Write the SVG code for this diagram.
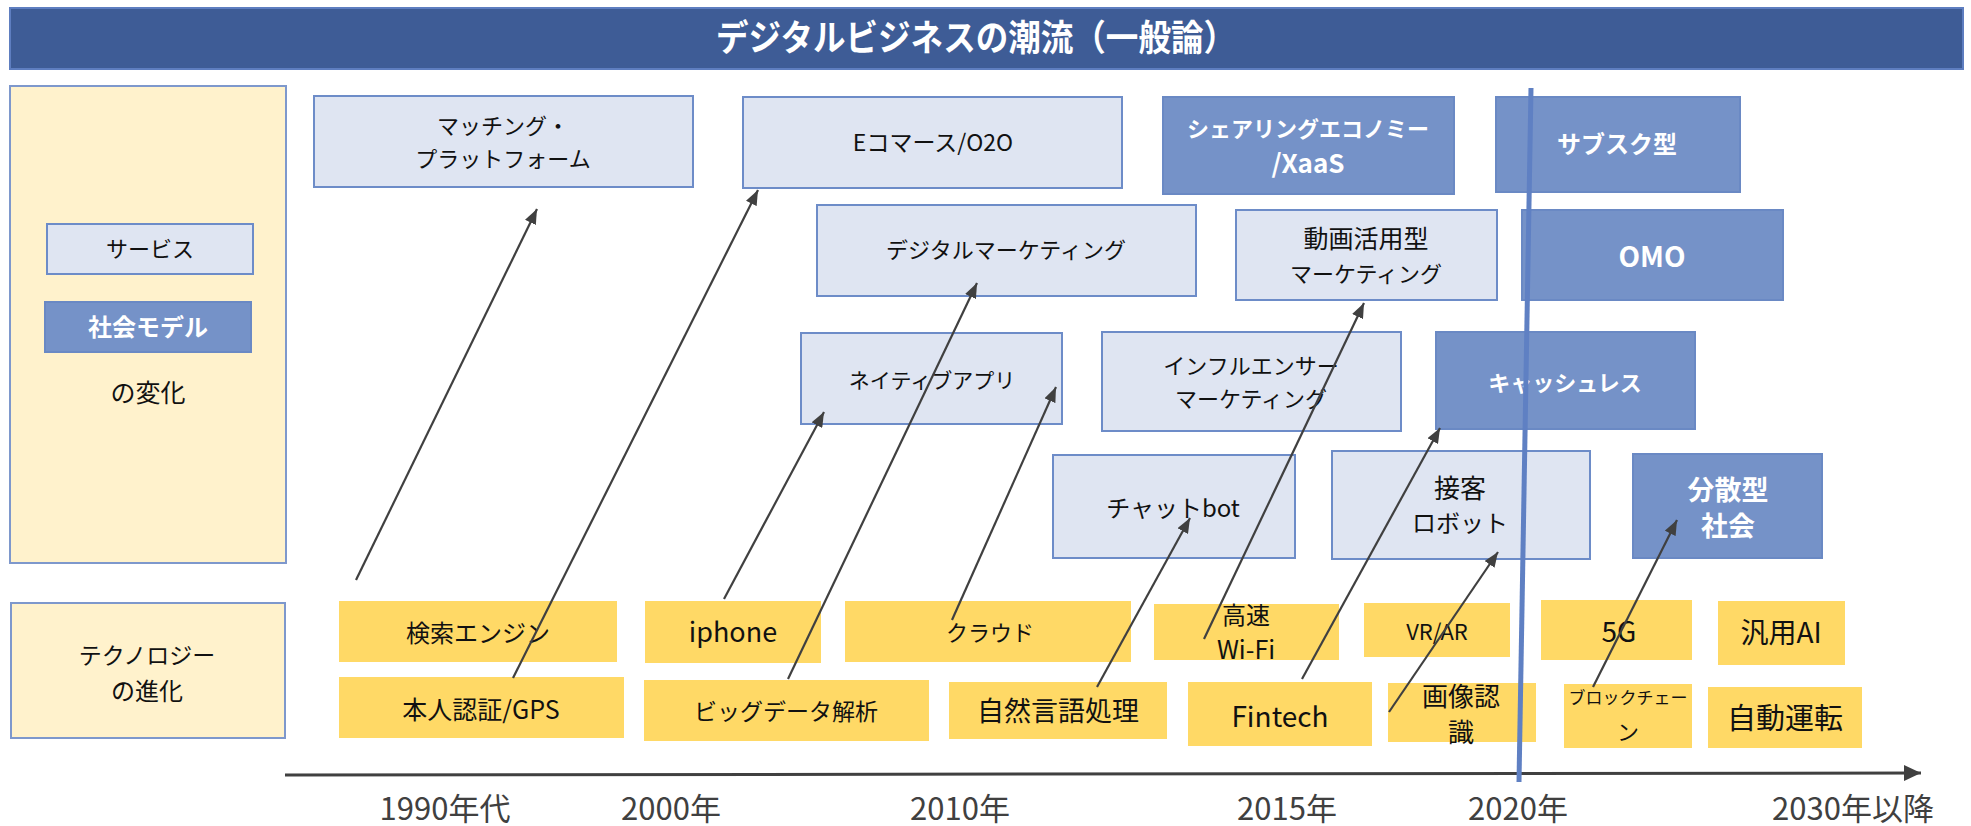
<svg xmlns="http://www.w3.org/2000/svg" width="1971" height="826" viewBox="0 0 1971 826">
<defs>
<style>
text{font-family:"Noto Sans CJK JP","Noto Sans",sans-serif;text-anchor:middle;}
.svc{fill:#DFE5F2;stroke:#6D8CC8;stroke-width:2;}
.soc{fill:#7592C8;stroke:#6A89C4;stroke-width:2;}
.tech{fill:#FFD966;}
.panel{fill:#FFF2CC;stroke:#7E98CC;stroke-width:2;}
.dk{fill:#111;}
.wt{fill:#fff;font-weight:bold;}
.yr{fill:#404040;font-size:31px;}
.con line{stroke:#404040;stroke-width:2.2;}
</style>
<marker id="ah" markerUnits="userSpaceOnUse" markerWidth="16" markerHeight="12" refX="15" refY="6" orient="auto">
<path d="M0,0 L15,6 L0,12 z" fill="#404040"/>
</marker>
<marker id="axh" markerUnits="userSpaceOnUse" markerWidth="18" markerHeight="16" refX="17" refY="8" orient="auto">
<path d="M0,0 L17,8 L0,16 z" fill="#404040"/>
</marker>
</defs>
<rect width="1971" height="826" fill="#fff"/>

<g id="title">
<rect x="10" y="8" width="1953" height="61" fill="#3E5C96" stroke="#5E7EC0" stroke-width="2"/>
<text x="976" y="51" class="wt" font-size="36" textLength="520" lengthAdjust="spacingAndGlyphs">デジタルビジネスの潮流（一般論）</text>
</g>

<g id="legend-panel">
<rect x="10" y="86" width="276" height="477" class="panel"/>
</g>
<g id="legend-service">
<rect x="47" y="224" width="206" height="50" class="svc"/>
<text x="150" y="257" class="dk" font-size="22">サービス</text>
</g>
<g id="legend-social">
<rect x="45" y="302" width="206" height="50" class="soc"/>
<text x="148" y="336" class="wt" font-size="24">社会モデル</text>
</g>
<g id="legend-change">
<text x="148" y="402" class="dk" font-size="25">の変化</text>
</g>
<g id="tech-panel">
<rect x="11" y="603" width="274" height="135" class="panel"/>
<text x="147" y="664" class="dk" font-size="23">テクノロジー</text>
<text x="147" y="700" class="dk" font-size="24">の進化</text>
</g>

<g id="n-matching"><rect x="314" y="96" width="379" height="91" class="svc"/>
<text x="503" y="134" class="dk" font-size="22">マッチング・</text>
<text x="503" y="167" class="dk" font-size="22">プラットフォーム</text></g>
<g id="n-ecommerce"><rect x="743" y="97" width="379" height="91" class="svc"/>
<text x="933" y="151" class="dk" font-size="23">Eコマース/O2O</text></g>
<g id="n-sharing"><rect x="1163" y="97" width="291" height="97" class="soc"/>
<text x="1308" y="137" class="wt" font-size="22">シェアリングエコノミー</text>
<text x="1308" y="173" class="wt" font-size="26">/XaaS</text></g>
<g id="n-subsc"><rect x="1496" y="97" width="244" height="95" class="soc"/>
<text x="1617" y="153" class="wt" font-size="24">サブスク型</text></g>
<g id="n-digimk"><rect x="817" y="205" width="379" height="91" class="svc"/>
<text x="1006" y="258" class="dk" font-size="22">デジタルマーケティング</text></g>
<g id="n-video"><rect x="1236" y="210" width="261" height="90" class="svc"/>
<text x="1366" y="248" class="dk" font-size="25">動画活用型</text>
<text x="1366" y="282" class="dk" font-size="22">マーケティング</text></g>
<g id="n-omo"><rect x="1522" y="210" width="261" height="90" class="soc"/>
<text x="1652" y="267" class="wt" font-size="28">OMO</text></g>
<g id="n-native"><rect x="801" y="333" width="261" height="91" class="svc"/>
<text x="932" y="388" class="dk" font-size="21">ネイティブアプリ</text></g>
<g id="n-influencer"><rect x="1102" y="332" width="299" height="99" class="svc"/>
<text x="1251" y="374" class="dk" font-size="22">インフルエンサー</text>
<text x="1251" y="407" class="dk" font-size="22">マーケティング</text></g>
<g id="n-cashless"><rect x="1436" y="332" width="259" height="97" class="soc"/>
<text x="1565" y="391" class="wt" font-size="22">キャッシュレス</text></g>
<g id="n-chatbot"><rect x="1053" y="455" width="242" height="103" class="svc"/>
<text x="1173" y="517" class="dk" font-size="24">チャットbot</text></g>
<g id="n-robot"><rect x="1332" y="451" width="258" height="108" class="svc"/>
<text x="1460" y="498" class="dk" font-size="26">接客</text>
<text x="1460" y="532" class="dk" font-size="24">ロボット</text></g>
<g id="n-distributed"><rect x="1633" y="454" width="189" height="104" class="soc"/>
<text x="1728" y="500" class="wt" font-size="27">分散型</text>
<text x="1728" y="536" class="wt" font-size="27">社会</text></g>

<g id="t-search"><rect x="339" y="601" width="278" height="61" class="tech"/>
<text x="478" y="642" class="dk" font-size="24">検索エンジン</text></g>
<g id="t-auth"><rect x="339" y="677" width="285" height="61" class="tech"/>
<text x="481" y="719" class="dk" font-size="25">本人認証/GPS</text></g>
<g id="t-iphone"><rect x="645" y="601" width="176" height="62" class="tech"/>
<text x="733" y="642" class="dk" font-size="27">iphone</text></g>
<g id="t-bigdata"><rect x="644" y="680" width="285" height="61" class="tech"/>
<text x="786" y="720" class="dk" font-size="23">ビッグデータ解析</text></g>
<g id="t-cloud"><rect x="845" y="601" width="286" height="61" class="tech"/>
<text x="990" y="641" class="dk" font-size="22">クラウド</text></g>
<g id="t-nlp"><rect x="949" y="682" width="218" height="57" class="tech"/>
<text x="1058" y="721" class="dk" font-size="27">自然言語処理</text></g>
<g id="t-wifi"><rect x="1154" y="604" width="185" height="56" class="tech"/>
<text x="1246" y="624" class="dk" font-size="24">高速</text>
<text x="1246" y="659" class="dk" font-size="25">Wi-Fi</text></g>
<g id="t-fintech"><rect x="1188" y="682" width="184" height="64" class="tech"/>
<text x="1280" y="727" class="dk" font-size="28">Fintech</text></g>
<g id="t-vrar"><rect x="1364" y="603" width="146" height="54" class="tech"/>
<text x="1437" y="640" class="dk" font-size="22">VR/AR</text></g>
<g id="t-image"><rect x="1388" y="683" width="148" height="59" class="tech"/>
<text x="1461" y="706" class="dk" font-size="26">画像認</text>
<text x="1461" y="742" class="dk" font-size="26">識</text></g>
<g id="t-5g"><rect x="1541" y="600" width="151" height="60" class="tech"/>
<text x="1619" y="642" class="dk" font-size="28">5G</text></g>
<g id="t-agi"><rect x="1718" y="601" width="127" height="64" class="tech"/>
<text x="1781" y="643" class="dk" font-size="28">汎用AI</text></g>
<g id="t-blockchain"><rect x="1564" y="684" width="128" height="64" class="tech"/>
<text x="1628" y="704" class="dk" font-size="17">ブロックチェー</text>
<text x="1628" y="740" class="dk" font-size="22">ン</text></g>
<g id="t-autodrive"><rect x="1708" y="687" width="154" height="61" class="tech"/>
<text x="1785" y="729" class="dk" font-size="29">自動運転</text></g>

<g id="connectors" class="con">
<line x1="356" y1="580" x2="537" y2="209" marker-end="url(#ah)"/>
<line x1="513" y1="678" x2="758" y2="190" marker-end="url(#ah)"/>
<line x1="724" y1="599" x2="824" y2="412" marker-end="url(#ah)"/>
<line x1="788" y1="679" x2="977" y2="283" marker-end="url(#ah)"/>
<line x1="952" y1="620" x2="1056" y2="387" marker-end="url(#ah)"/>
<line x1="1097" y1="687" x2="1190" y2="518" marker-end="url(#ah)"/>
<line x1="1204" y1="639" x2="1364" y2="303" marker-end="url(#ah)"/>
<line x1="1302" y1="679" x2="1440" y2="428" marker-end="url(#ah)"/>
<line x1="1389" y1="712" x2="1498" y2="552" marker-end="url(#ah)"/>
<line x1="1593" y1="687" x2="1677" y2="520" marker-end="url(#ah)"/>
</g>

<g id="axis">
<line x1="285" y1="775" x2="1921" y2="773" stroke="#404040" stroke-width="3" marker-end="url(#axh)"/>
<text x="445" y="820" class="yr">1990年代</text>
<text x="671" y="820" class="yr">2000年</text>
<text x="960" y="820" class="yr">2010年</text>
<text x="1287" y="820" class="yr">2015年</text>
<text x="1518" y="820" class="yr">2020年</text>
<text x="1853" y="820" class="yr">2030年以降</text>
</g>

<g id="now-line">
<line x1="1531" y1="88" x2="1519" y2="782" stroke="#5F80C3" stroke-width="5"/>
</g>
</svg>
